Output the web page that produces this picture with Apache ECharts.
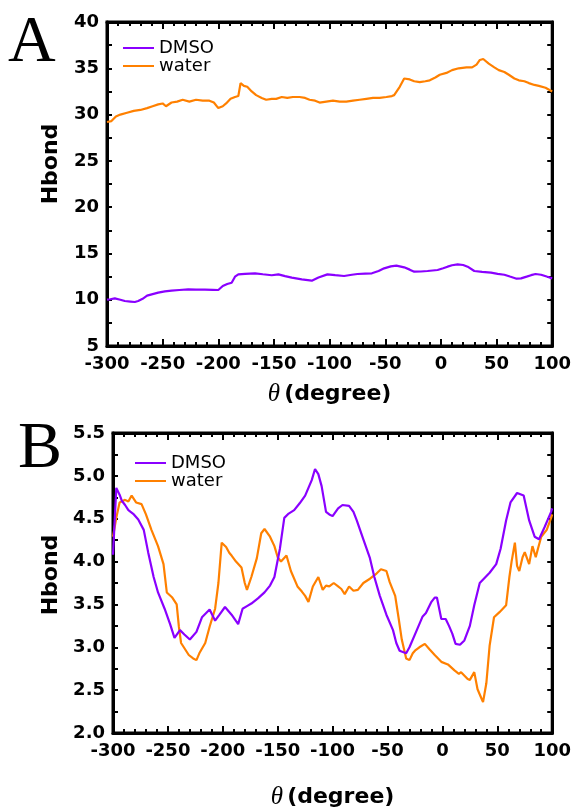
<!DOCTYPE html>
<html>
<head>
<meta charset="utf-8">
<title>Hbond vs theta</title>
<script src="https://cdn.jsdelivr.net/npm/echarts@6/dist/echarts.min.js"></script>
<style>
  html, body { margin: 0; padding: 0; background: #fff; }
  #main { width: 574px; height: 811px; }
</style>
</head>
<body>
<div id="main"></div>
<script>
// Panel A: hydrogen bond counts over the full rotation angle
const aWaterTheta = [-300,-296,-292,-288,-282,-276,-270,-264,-259,-254,-250,-247,-242,-237,-232,-226,-220,-214,-208,-204,-200,-196,-193,-189,-185,-182,-180,-177,-174,-170,-166,-161,-157,-152,-148,-143,-138,-133,-127,-122,-118,-113,-109,-103,-97,-91,-85,-79,-73,-67,-61,-55,-49,-44,-42,-37,-33,-28,-24,-19,-14,-10,-5,-1,5,10,16,23,28,32,35,38,43,48,52,57,61,66,70,75,79,84,88,94,100];
const aWaterHbond = [29.2,29.3,29.8,30.0,30.2,30.4,30.5,30.7,30.9,31.1,31.2,30.9,31.3,31.4,31.6,31.4,31.6,31.5,31.5,31.3,30.7,30.9,31.2,31.7,31.9,32.0,33.4,33.1,33.0,32.5,32.1,31.8,31.6,31.7,31.7,31.9,31.8,31.9,31.9,31.8,31.6,31.5,31.3,31.4,31.5,31.4,31.4,31.5,31.6,31.7,31.8,31.8,31.9,32.0,32.1,33.0,33.9,33.8,33.6,33.5,33.6,33.7,34.0,34.3,34.5,34.8,35.0,35.1,35.1,35.4,35.9,36.0,35.5,35.1,34.8,34.6,34.3,33.9,33.7,33.6,33.4,33.2,33.1,32.9,32.5];

const aDmsoTheta = [-300,-297,-293,-288,-284,-279,-275,-272,-268,-264,-259,-254,-248,-242,-235,-227,-220,-212,-205,-200,-196,-192,-188,-185,-182,-176,-167,-160,-152,-146,-140,-134,-125,-116,-110,-102,-95,-87,-80,-75,-68,-62,-56,-51,-45,-40,-33,-28,-24,-18,-12,-3,2,6,10,15,20,24,30,37,45,51,57,62,68,72,77,81,85,90,95,100];
const aDmsoHbond = [10.0,10.05,10.15,10.0,9.86,9.8,9.75,9.86,10.1,10.44,10.6,10.76,10.9,10.98,11.05,11.12,11.1,11.09,11.07,11.05,11.48,11.7,11.84,12.49,12.74,12.8,12.85,12.75,12.64,12.74,12.55,12.38,12.2,12.06,12.4,12.74,12.65,12.56,12.7,12.78,12.82,12.85,13.1,13.39,13.6,13.68,13.5,13.25,13.03,13.05,13.1,13.21,13.4,13.57,13.72,13.82,13.75,13.57,13.1,13.0,12.92,12.8,12.7,12.5,12.27,12.3,12.49,12.65,12.78,12.7,12.5,12.31];

// Panel B: hydrogen bond counts on the second site
const bDmsoTheta = [-300,-297,-294,-292,-289,-286,-281,-277,-272,-268,-263,-259,-253,-248,-244,-239,-235,-230,-224,-219,-212,-207,-203,-198,-192,-186,-182,-178,-174,-168,-162,-157,-153,-148,-144,-140,-135,-130,-125,-119,-116,-113,-110,-106,-103,-100,-95,-91,-85,-81,-78,-72,-66,-62,-57,-51,-45,-42,-39,-33,-30,-24,-18,-15,-10,-7,-5,-1,3,6,9,12,16,20,25,29,34,43,49,53,58,62,68,74,79,84,88,93,99,100];
const bDmsoHbond = [4.08,4.86,4.78,4.71,4.66,4.60,4.55,4.49,4.37,4.11,3.82,3.64,3.45,3.27,3.11,3.20,3.15,3.09,3.18,3.35,3.44,3.31,3.38,3.47,3.38,3.27,3.45,3.48,3.51,3.57,3.64,3.72,3.82,4.15,4.51,4.56,4.60,4.68,4.77,4.95,5.08,5.02,4.88,4.58,4.55,4.53,4.62,4.66,4.65,4.58,4.48,4.26,4.04,3.82,3.60,3.38,3.20,3.05,2.96,2.93,3.0,3.18,3.36,3.40,3.53,3.58,3.58,3.33,3.33,3.25,3.16,3.04,3.03,3.08,3.25,3.49,3.75,3.87,3.97,4.15,4.48,4.69,4.80,4.77,4.48,4.29,4.26,4.40,4.58,4.62];

const bWaterTheta = [-300,-297,-294,-289,-286,-283,-279,-274,-270,-265,-259,-254,-251,-246,-242,-240,-238,-231,-227,-224,-221,-216,-212,-207,-204,-201,-197,-194,-192,-188,-183,-180,-178,-174,-169,-165,-162,-157,-153,-150,-147,-142,-138,-132,-128,-125,-122,-118,-113,-109,-106,-103,-99,-95,-92,-89,-85,-81,-77,-72,-66,-60,-56,-51,-48,-43,-40,-37,-33,-30,-27,-25,-21,-16,-12,-7,-1,5,11,15,17,23,25,29,32,35,37,40,43,47,52,55,58,61,63,66,68,70,73,75,79,82,85,87,90,95,99,100];
const bWaterHbond = [4.29,4.51,4.69,4.72,4.70,4.77,4.69,4.67,4.55,4.37,4.18,3.97,3.64,3.58,3.50,3.24,3.05,2.91,2.87,2.85,2.94,3.05,3.24,3.45,3.75,4.22,4.17,4.10,4.07,4.0,3.93,3.75,3.67,3.82,4.04,4.33,4.38,4.29,4.18,4.05,4.0,4.07,3.89,3.71,3.65,3.60,3.53,3.71,3.82,3.67,3.72,3.71,3.75,3.71,3.68,3.62,3.71,3.66,3.67,3.75,3.80,3.86,3.91,3.89,3.76,3.60,3.35,3.09,2.87,2.85,2.93,2.96,3.0,3.04,2.98,2.91,2.83,2.80,2.73,2.69,2.71,2.63,2.62,2.71,2.51,2.42,2.36,2.58,3.02,3.35,3.41,3.45,3.49,3.82,4.0,4.22,3.95,3.89,4.05,4.11,3.97,4.18,4.05,4.15,4.29,4.37,4.51,4.55];

const seriesNames = ['DMSO', 'water'];
const seriesColors = ['#8a00ff', '#ff8000'];

(function () {
  function pairs(xs, ys) {
    return xs.map((x, i) => [x, ys[i]]);
  }

  const tickFont = { fontFamily: 'DejaVu Sans', fontWeight: 'bold', fontSize: 18, color: '#000' };

  function frameLine() {
    return { show: true, onZero: false, lineStyle: { color: '#000', width: 3 } };
  }

  // bottom axis with labels plus a mirrored top axis carrying only ticks
  function xAxisPair(gridIndex, nameGap) {
    const make = () => ({
      type: 'value', gridIndex, min: -300, max: 100, interval: 50,
      axisLine: frameLine(), splitLine: { show: false },
      axisTick: { show: true, inside: true, length: 7, lineStyle: { color: '#000', width: 2 } },
      minorTick: { show: true, splitNumber: 5, length: 4, lineStyle: { color: '#000', width: 2 } }
    });
    return [
      Object.assign(make(), {
        position: 'bottom',
        axisLabel: Object.assign({ margin: 9 }, tickFont),
        name: '{t|θ}{d|(degree)}',
        nameLocation: 'middle',
        nameGap,
        nameTextStyle: {
          rich: {
            t: { fontFamily: 'Liberation Serif', fontStyle: 'italic', fontSize: 25, color: '#000', padding: [0, 4, 0, 0] },
            d: { fontFamily: 'DejaVu Sans', fontWeight: 'bold', fontSize: 22, color: '#000' }
          }
        }
      }),
      Object.assign(make(), { position: 'top', axisLabel: { show: false } })
    ];
  }

  // left axis with labels plus a mirrored right axis carrying only ticks
  function yAxisPair(gridIndex, min, max, interval, decimals, gap, shift) {
    const make = () => ({
      type: 'value', gridIndex, min, max, interval,
      axisLine: frameLine(), splitLine: { show: false },
      axisTick: { show: true, inside: true, length: 5, lineStyle: { color: '#000', width: 2 } },
      minorTick: { show: true, splitNumber: 2, length: 5, lineStyle: { color: '#000', width: 2 } }
    });
    return [
      Object.assign(make(), {
        position: 'left',
        axisLabel: Object.assign({ margin: 8, formatter: v => v.toFixed(decimals) }, tickFont),
        name: 'Hbond',
        nameLocation: 'middle',
        nameRotate: 90,
        nameGap: gap,
        nameTextStyle: {
          fontFamily: 'DejaVu Sans', fontWeight: 'bold', fontSize: 22, color: '#000',
          padding: [0, 0, 0, shift]
        }
      }),
      Object.assign(make(), { position: 'right', axisLabel: { show: false } })
    ];
  }

  function lineSeries(name, color, xi, yi, data) {
    return {
      name, type: 'line', xAxisIndex: xi, yAxisIndex: yi,
      data, symbol: 'none', showSymbol: false,
      lineStyle: { color, width: 2.2 }, itemStyle: { color },
      z: name === 'DMSO' ? 3 : 2
    };
  }

  function legendAt(left, top) {
    return {
      left, top, orient: 'vertical', padding: 0, itemGap: 0,
      icon: 'rect', itemWidth: 31, itemHeight: 2,
      data: seriesNames,
      textStyle: { fontFamily: 'DejaVu Sans', fontSize: 18, color: '#000', lineHeight: 18, padding: [0, 0, 0, 0] }
    };
  }

  const xA = xAxisPair(0, 36), xB = xAxisPair(1, 52);
  const yA = yAxisPair(0, 5, 40, 5, 0, 45, 40);
  const yB = yAxisPair(1, 2.0, 5.5, 0.5, 1, 51, 16);

  const opts = {
    animation: false,
    backgroundColor: '#fff',
    grid: [
      { left: 107, top: 22, width: 446, height: 324, show: true, borderColor: '#000', borderWidth: 3, backgroundColor: 'transparent' },
      { left: 113, top: 433, width: 440, height: 320, show: true, borderColor: '#000', borderWidth: 3, backgroundColor: 'transparent' }
    ],
    legend: [legendAt(123, 39), legendAt(135, 454)],
    xAxis: [xA[0], xA[1], xB[0], xB[1]],
    yAxis: [yA[0], yA[1], yB[0], yB[1]],
    series: [
      lineSeries(seriesNames[1], seriesColors[1], 0, 0, pairs(aWaterTheta, aWaterHbond)),
      lineSeries(seriesNames[0], seriesColors[0], 0, 0, pairs(aDmsoTheta, aDmsoHbond)),
      lineSeries(seriesNames[1], seriesColors[1], 2, 2, pairs(bWaterTheta, bWaterHbond)),
      lineSeries(seriesNames[0], seriesColors[0], 2, 2, pairs(bDmsoTheta, bDmsoHbond))
    ],
    graphic: [
      { type: 'text', left: 8, top: 11, style: { text: 'A', font: '66px "Liberation Serif"', fill: '#000' } },
      { type: 'text', left: 18, top: 417, style: { text: 'B', font: '66px "Liberation Serif"', fill: '#000' } }
    ]
  };

  const inst = echarts.init(document.getElementById('main'), null, { renderer: 'canvas', width: 574, height: 811 });
  inst.setOption(opts);
})();
</script>
</body>
</html>
